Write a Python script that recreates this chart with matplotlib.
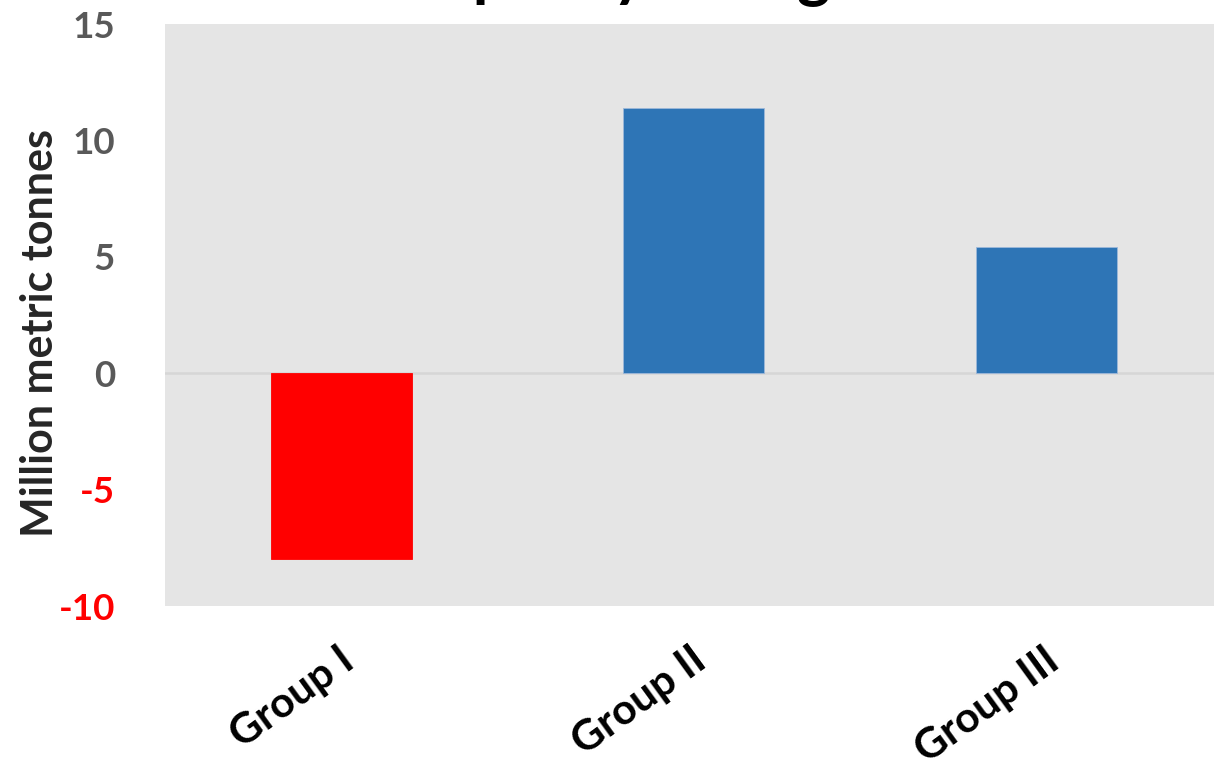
import matplotlib
matplotlib.use("Agg")
import matplotlib.pyplot as plt
from matplotlib.font_manager import FontProperties
from matplotlib.transforms import ScaledTranslation

# Data
groups = ["Group I", "Group II", "Group III"]
changes = [-8.0, 11.4, 5.4]
y_ticks = [-10, -5, 0, 5, 10, 15]
title_text = "Capacity change"
y_label = "Million metric tonnes"

W, H, DPI = 1214, 770, 100
fig = plt.figure(figsize=(W / DPI, H / DPI), dpi=DPI)
fig.patch.set_facecolor("white")

# Plot area (right side runs past the figure edge)
ax = fig.add_axes([165 / W, 164 / H, 1057.5 / W, 582 / H])
ax.set_facecolor("#E5E5E5")
for s in ax.spines.values():
    s.set_visible(False)

bar_colors = ["#FF0000" if v < 0 else "#2E75B6" for v in changes]
x = list(range(len(groups)))
ax.bar(x, changes, width=0.4, color=bar_colors, zorder=3,
       edgecolor=["#FF0000" if v < 0 else "#9DB8DA" for v in changes], linewidth=0.6)
ax.axhline(0, color="#D6D6D6", lw=1.8, zorder=2)

ax.set_xlim(-0.5, 2.5)
ax.set_ylim(-10, 15)
ax.set_yticks(y_ticks)
ax.set_yticklabels([str(t) for t in y_ticks])
ax.tick_params(axis="both", length=0)
ax.tick_params(axis="y", pad=36)

for lbl, t in zip(ax.get_yticklabels(), y_ticks):
    lbl.set_fontfamily("Lato")
    lbl.set_fontweight("bold")
    lbl.set_fontsize(26.5)
    lbl.set_color("#FF0000" if t < 0 else "#595959")

ax.set_xticks(x)
ax.set_xticklabels(groups, fontfamily="Lato", fontweight="bold", fontsize=30.5,
                   color="black", rotation=36, ha="right", va="top",
                   rotation_mode="anchor")
ax.tick_params(axis="x", pad=25)
shift = ScaledTranslation(-3 / DPI, 0, fig.dpi_scale_trans)
for lbl in ax.get_xticklabels():
    lbl.set_transform(lbl.get_transform() + shift)

fig.text(40 / W, 1 - 333 / H, y_label, rotation=90, ha="center", va="center",
         fontfamily="Lato", fontweight="bold", fontsize=31, color="#262626")

# Title sits mostly above the top edge; only the descenders show
fp = FontProperties(family="Lato", weight="bold", size=46)
r = fig.canvas.get_renderer()
w_ca, _, _ = r.get_text_width_height_descent("Ca", fp, ismath=False)
x0 = 477 - w_ca - 0.07 * 46 * DPI / 72
fig.text(x0 / W, 1 + 6 / H, title_text, ha="left", va="baseline",
         fontproperties=fp, color="black")

fig.savefig("out.png", dpi=DPI)
